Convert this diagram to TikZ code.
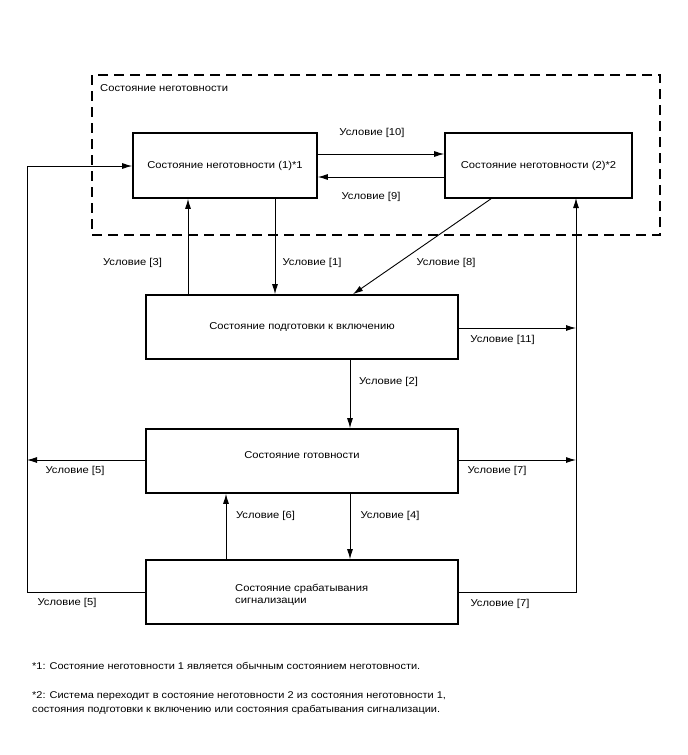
\documentclass[tikz,border=0pt]{standalone}
\usepackage{fontspec}
\setmainfont[FakeStretch=1.12]{Liberation Sans}
\usetikzlibrary{arrows.meta}
\begin{document}
\begin{tikzpicture}[x=1pt,y=-1pt,
  font=\fontsize{10}{12.5}\selectfont,
  statebox/.style={draw,line width=1.6pt,rectangle,inner sep=0pt},
  conn/.style={line width=0.9pt,-{Latex[length=10pt,width=6pt]}},
  lbl/.style={inner sep=0pt},
  footnote/.style={inner sep=0pt,font=\fontsize{9.8}{14.5}\selectfont},
  groupbox/.style={draw,line width=1.7pt,dash pattern=on 10pt off 6pt}]
\useasboundingbox (0,0) rectangle (688,755);
% group
\draw[groupbox] (92,75) rectangle (660,235);
\node[lbl,anchor=west] (grouplbl) at (100,88) {Состояние неготовности};
% boxes
\node[statebox,minimum width=184pt,minimum height=65pt] (n1) at (225,165.5) {Состояние неготовности (1)*1};
\node[statebox,minimum width=187pt,minimum height=65pt] (n2) at (538.5,165.5) {Состояние неготовности (2)*2};
\node[statebox,minimum width=312pt,minimum height=64pt] (prep) at (302,327) {Состояние подготовки к включению};
\node[statebox,minimum width=312pt,minimum height=64pt,text depth=12pt] (ready) at (302,461) {Состояние готовности};
\node[statebox,minimum width=312pt,minimum height=64pt] (alarm) at (302,592) {};
\node[lbl,anchor=west,align=left] (alarmtxt) at (235,595) {Состояние срабатывания\\сигнализации};
% coordinates
\coordinate (lx1) at (27,166);
\coordinate (lx2) at (27,592);
\coordinate (lx3) at (27,460);
\coordinate (rx1) at (576,198);
\coordinate (rx2) at (576,592);
\coordinate (rx3) at (576,460);
\coordinate (rx4) at (576,328);
% connectors
\draw[conn] (n1.east |- 0,154) -- (n2.west |- 0,154);
\draw[conn] (n2.west |- 0,177) -- (n1.east |- 0,177);
\draw[conn] (prep.north -| 188,0) -- (n1.south -| 188,0);
\draw[conn] (n1.south -| 275,0) -- (prep.north -| 275,0);
\draw[conn] (n2.south -| 491,0) -- (prep.north -| 353,0);
\draw[conn] (prep.east |- 0,328) -- (rx4);
\draw[conn] (prep.south -| 350,0) -- (ready.north -| 350,0);
\draw[conn] (ready.west |- 0,460) -- (lx3);
\draw[conn] (ready.east |- 0,460) -- (rx3);
\draw[conn] (alarm.north -| 226,0) -- (ready.south -| 226,0);
\draw[conn] (ready.south -| 350,0) -- (alarm.north -| 350,0);
\draw[conn] (alarm.west) -- (lx2) -- (lx1) -- (n1.west |- lx1);
\draw[conn] (alarm.east) -- (rx2) -- (rx1);
% labels
\node[lbl] (c10) at (372,133) {Условие [10]};
\node[lbl] (c9) at (371,196.5) {Условие [9]};
\node[lbl] (c3) at (132.5,263) {Условие [3]};
\node[lbl] (c1) at (312,263) {Условие [1]};
\node[lbl] (c8) at (446,263) {Условие [8]};
\node[lbl] (c11) at (502.5,340) {Условие [11]};
\node[lbl] (c2) at (388.5,382) {Условие [2]};
\node[lbl] (c5a) at (75,471) {Условие [5]};
\node[lbl] (c7a) at (497,471) {Условие [7]};
\node[lbl] (c6) at (265.5,516) {Условие [6]};
\node[lbl] (c4) at (390,516) {Условие [4]};
\node[lbl] (c5b) at (67,603) {Условие [5]};
\node[lbl] (c7b) at (500,604) {Условие [7]};
% footnotes
\node[footnote,anchor=west] (fn1) at (32,665.5) {*1: Состояние неготовности 1 является обычным состоянием неготовности.};
\node[footnote,anchor=west,align=left] (fn2) at (32,703) {*2: Система переходит в состояние неготовности 2 из состояния неготовности 1,\\состояния подготовки к включению или состояния срабатывания сигнализации.};
\end{tikzpicture}
\end{document}
